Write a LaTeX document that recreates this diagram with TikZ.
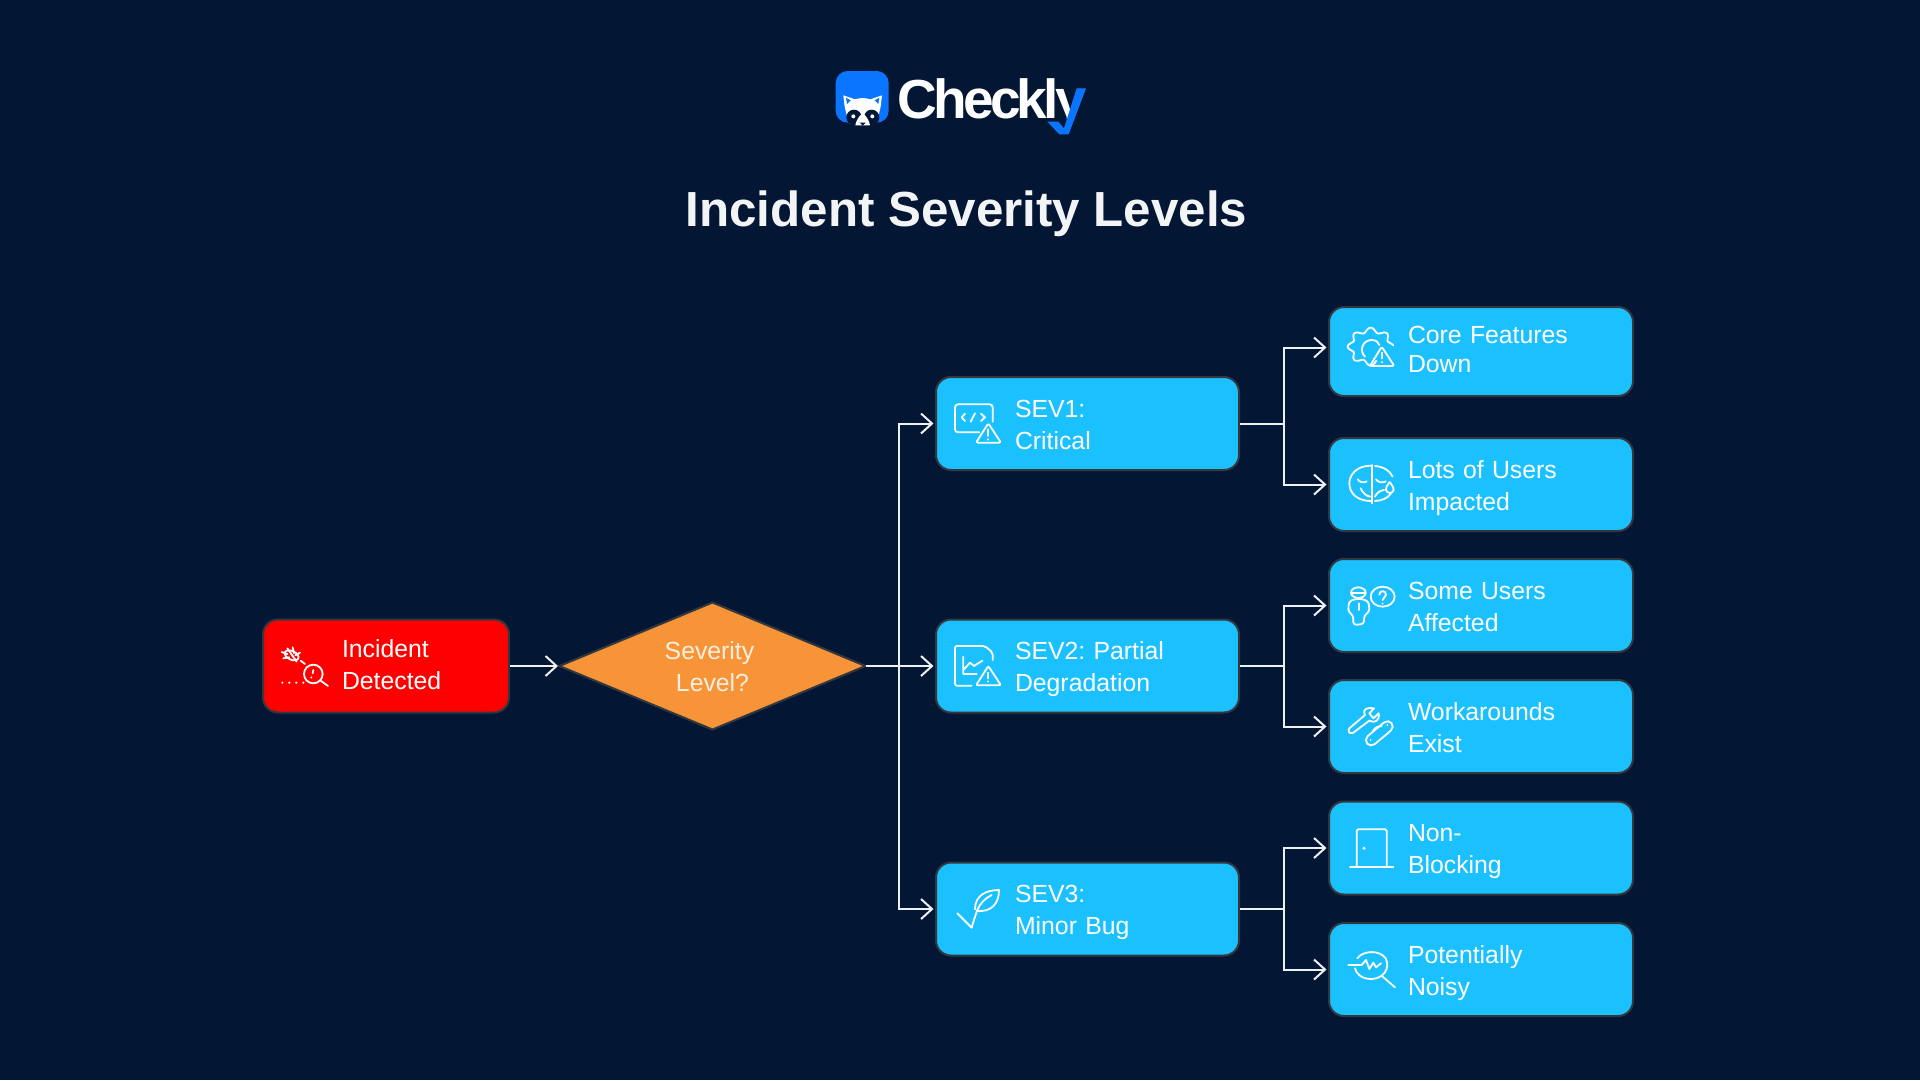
\documentclass[tikz,border=0pt]{standalone}
\usepackage{fontspec}
\setmainfont{Liberation Sans}
\newfontfamily\logofont{Liberation Sans}[LetterSpace=-6.7]
\usetikzlibrary{shapes.geometric,arrows.meta}
\definecolor{pagebg}{HTML}{031735}
\definecolor{sevblue}{HTML}{1BC1FF}
\definecolor{logoblue}{HTML}{0A75FF}
\definecolor{edgegrey}{HTML}{33383F}
\definecolor{diamondfill}{HTML}{F79438}
\definecolor{linewhite}{HTML}{EEF1F4}
\tikzset{
  flowbox/.style={rectangle,rounded corners=15pt,draw=edgegrey,line width=2pt,text=white,inner sep=0pt,
    minimum height=93pt,font=\fontsize{24.8pt}{32pt}\selectfont,
    execute at begin node={\frenchspacing\leftskip=79pt\relax\rule{0pt}{29pt}},execute at end node={\strut}},
  sevbox/.style={flowbox,fill=sevblue,text width=303pt},
  effectbox/.style={flowbox,fill=sevblue,text width=304pt},
  flow/.style={line width=2pt,draw=linewhite,-{Straight Barb[length=11pt,width=20pt,line width=2pt]},shorten >=1.5pt},
  iconline/.style={draw=white,line width=1.8pt,line cap=round,line join=round},
  zoomed/.style={x=.3333pt,y=-.3333pt}
}
\begin{document}
\begin{tikzpicture}[x=1pt,y=-1pt]
\useasboundingbox[fill=pagebg] (0,0) rectangle (1920,1080);
% logo
\begin{scope}[shift={(800,50)},zoomed]
\fill[logoblue,rounded corners=12pt] (107,63) rectangle (266,218);
\fill[white] (130,136) -- (165,148) .. controls (180,143) and (196,143) .. (211,148) -- (246,136) -- (242,170) -- (236,195) -- (225,222) -- (150,222) -- (140,195) -- (134,170) -- cycle;
\fill[logoblue] (138,143) -- (152,151) -- (141,162) -- cycle (238,143) -- (224,151) -- (235,162) -- cycle;
\fill[pagebg] (162,202) circle[radius=23] (215,202) circle[radius=23];
\fill[white] (188,188) .. controls (176,200) and (168,212) .. (166,226) -- (210,226) .. controls (208,212) and (200,200) .. (188,188) -- cycle;
\fill[pagebg] (179,218) -- (197,218) -- (188,227) -- cycle;
\fill[white] (160,199) circle[radius=6] (217,199) circle[radius=6];
\end{scope}
\node[inner sep=0pt,text=white,font=\logofont\bfseries\fontsize{55pt}{55pt}\selectfont,anchor=base west] (logotext) at (897,118) {Checkly};
\begin{scope}[shift={(800,50)},zoomed]
\fill[pagebg] (720,206) rectangle (880,270);
\fill[logoblue] (830,115) -- (858,115) -- (806,253) -- (778,253) -- (742,215) -- (775,215) -- (792,235) -- cycle;
\end{scope}
\node[text=white!95!pagebg,font=\bfseries\fontsize{49.3pt}{49pt}\selectfont,anchor=base] (title) at (966.5,226) {Incident Severity Levels};
%
\node[flowbox,fill=red,text width=246pt] (incident) at (386,666) {Incident\\Detected\vspace{5pt}};
\node[diamond,aspect=2.37,draw=edgegrey,line width=2pt,fill=diamondfill,minimum width=306pt,minimum height=127pt,inner sep=0pt,outer sep=0pt,
  align=center,text=white!85!diamondfill,font=\fontsize{24.8pt}{32pt}\selectfont] (severity) at (712.5,666) {\rule{0pt}{29pt}Severity\hspace*{6pt}\\\strut Level?};
%
\node[sevbox] (sev1) at (1087.5,423.5) {SEV1:\\Critical};
\node[sevbox] (sev2) at (1087.5,666) {SEV2: Partial\\Degradation};
\node[sevbox] (sev3) at (1087.5,909) {SEV3:\\Minor Bug};
%
\node[effectbox,minimum height=89pt,font=\fontsize{24.8pt}{29pt}\selectfont] (core) at (1481,351.5) {Core Features\\Down\vspace{6.7pt}};
\node[effectbox] (lots) at (1481,484.5) {Lots of Users\\Impacted};
\node[effectbox] (some) at (1481,605.5) {Some Users\\Affected};
\node[effectbox] (work) at (1481,726.5) {Workarounds\\Exist};
\node[effectbox] (non) at (1481,848) {Non-\\Blocking};
\node[effectbox] (noisy) at (1481,969.5) {Potentially\\Noisy};
%
\draw[flow] (incident) -- (severity);
\draw[flow] (severity) -- (sev2);
\draw[flow] (severity.east) -- ++(33.5,0) |- (sev1);
\draw[flow] (severity.east) -- ++(33.5,0) |- (sev3);
\draw[flow] (sev1.east) -- ++(44,0) |- ([yshift=4pt]core.west);
\draw[flow] (sev1.east) -- ++(44,0) |- (lots);
\foreach \a/\b/\c in {sev2/some/work,sev3/non/noisy}
{
  \draw[flow] (\a.east) -- ++(44,0) |- (\b);
  \draw[flow] (\a.east) -- ++(44,0) |- (\c);
}
% icons
\begin{scope}[shift={(250,590)},zoomed]
\draw[iconline,rotate around={-25:(125,196)}] (125,196) ellipse[x radius=22,y radius=13];
\draw[iconline] (112,175)--(140,215) (95,186)--(112,192) (100,205)--(118,202) (128,172)--(132,190) (150,188)--(136,196) (152,212)--(165,222);
\draw[iconline,line width=2.4pt,dash pattern=on 0pt off 7pt] (97,278)--(162,278);
\draw[iconline] (190,252) circle[radius=28] (212,272)--(234,288) (190,240)--(188,250) (184,262)--(184,263);
\end{scope}
\begin{scope}[shift={(920,360)},zoomed]
\draw[iconline,rounded corners=3pt] (218,185)--(218,133)--(105,133)--(105,217)--(178,217);
\draw[iconline] (135,161)--(125,172)--(135,183) (152,185)--(165,160) (183,161)--(195,172)--(183,183);
\draw[iconline,rounded corners=2pt] (205,190)--(243,248)--(168,248)--cycle;
\draw[iconline] (205,208)--(205,228) (205,238)--(205,239);
\end{scope}
\begin{scope}[shift={(920,610)},zoomed]
\draw[iconline,rounded corners=2pt] (218,150)--(218,128)--(195,108)--(105,108)--(105,227)--(155,227);
\draw[iconline] (130,140)--(130,192)--(170,192) (130,180)--(150,158)--(162,168)--(187,152);
\draw[iconline,rounded corners=2pt] (205,168)--(243,226)--(168,226)--cycle;
\draw[iconline] (205,188)--(205,205) (205,214)--(205,215);
\end{scope}
\begin{scope}[shift={(920,850)},zoomed]
\draw[iconline] (112,190)--(155,233) .. controls (160,215) and (165,200) .. (172,180);
\draw[iconline] (165,178) .. controls (165,135) and (200,120) .. (237,120) .. controls (237,160) and (215,187) .. (170,183);
\draw[iconline] (172,180) .. controls (180,160) and (195,145) .. (215,135);
\end{scope}
\begin{scope}[shift={(1320,300)},zoomed]
\draw[iconline,domain=-288:-4,samples=120,variable=\x] plot ({152+(62+7*cos(8*\x))*cos(\x)},{140+(50+7*cos(8*\x))*sin(\x)});
\draw[iconline] (135,170) .. controls (118,155) and (125,120) .. (155,120) .. controls (170,120) and (175,128) .. (178,135);
\draw[iconline,rounded corners=2pt] (185,140)--(223,198)--(150,198)--cycle;
\draw[iconline] (185,158)--(185,175) (185,186)--(185,187);
\draw[iconline] (152,497) .. controls (110,497) and (88,525) .. (88,550) .. controls (88,578) and (110,603) .. (152,603);
\draw[iconline] (155,495)--(155,610);
\draw[iconline] (165,498) .. controls (190,500) and (210,512) .. (218,530) (165,603) .. controls (185,602) and (200,596) .. (212,582);
\draw[iconline] (113,538) .. controls (120,548) and (132,550) .. (140,544) (168,538) .. controls (175,548) and (188,550) .. (197,544);
\draw[iconline] (122,565) .. controls (128,580) and (140,588) .. (150,590) (165,590) .. controls (170,578) and (180,572) .. (192,570);
\draw[iconline] (209,546) .. controls (200,558) and (196,565) .. (198,570) .. controls (202,582) and (218,582) .. (221,570) .. controls (222,565) and (218,558) .. (209,546);
\end{scope}
\begin{scope}[shift={(1320,550)},zoomed]
\draw[iconline] (115,128) ellipse[x radius=22,y radius=16];
\draw[iconline] (95,128)--(137,128) (117,160)--(117,180);
\draw[iconline,rounded corners=3pt] (100,225)--(100,197)--(85,185)--(85,170) .. controls (90,142) and (142,142) .. (148,170)--(148,185)--(132,197)--(132,222)--cycle;
\draw[iconline] (188,140) ellipse[x radius=36,y radius=30];
\draw[iconline] (178,134) .. controls (178,120) and (198,120) .. (198,134) .. controls (198,142) and (188,142) .. (188,150) (188,160)--(188,161);
%
\draw[iconline] (88,535) -- (135,495) .. controls (125,475) and (145,472) .. (162,475) -- (148,490) -- (160,505) -- (176,490) .. controls (180,510) and (165,522) .. (148,512) -- (100,548) .. controls (88,555) and (82,542) .. (88,535);
\draw[iconline,rounded corners=5.5pt,rotate around={40:(178,550)}] (130,534) rectangle (226,566);
\draw[iconline] (158,545) .. controls (165,530) and (175,530) .. (185,528);
\fill[white] (152,570) circle[radius=3] (202,525) circle[radius=3];
\end{scope}
\begin{scope}[shift={(1320,795)},zoomed]
\draw[iconline,rounded corners=1.5pt] (110,215)--(110,103)--(200,103)--(200,215);
\draw[iconline] (90,215)--(220,215);
\fill[white] (132,160) circle[radius=5];
%
\draw[iconline] (112,490) .. controls (130,465) and (180,465) .. (197,490) .. controls (212,520) and (190,552) .. (153,552) .. controls (125,552) and (107,535) .. (105,520);
\draw[iconline] (85,510)--(125,510)--(138,495)--(148,522)--(160,503)--(168,517)--(183,505) (188,545)--(225,577);
\end{scope}
\end{tikzpicture}
\end{document}
